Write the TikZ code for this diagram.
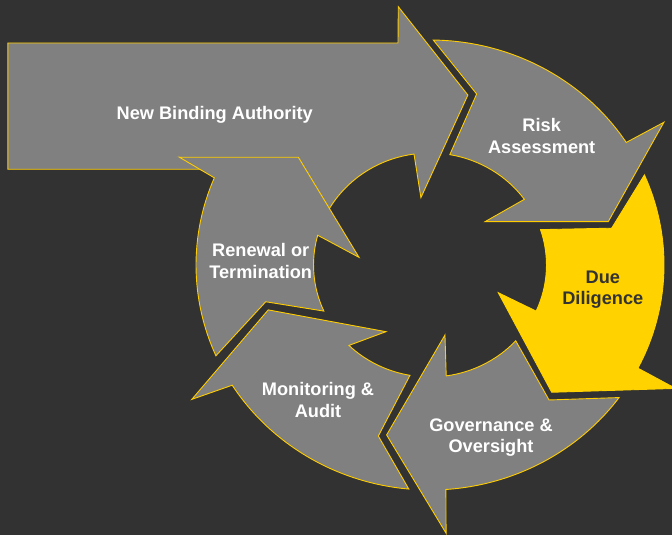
\documentclass[tikz,border=0pt]{standalone}
\usepackage{fontspec}
\setmainfont{Liberation Sans}
\definecolor{bgdark}{HTML}{323232}
\definecolor{arrowgray}{HTML}{808080}
\definecolor{rimyellow}{HTML}{FFCC00}
\definecolor{hotyellow}{HTML}{FFD200}
\definecolor{darktext}{HTML}{333333}
\begin{document}
\begin{tikzpicture}[
  cyc/.style={draw=rimyellow, line width=0.9pt, line join=miter, fill=arrowgray},
  hot/.style={cyc, fill=hotyellow, draw=hotyellow},
  lbl/.style={font=\bfseries\fontsize{18.2}{21.7}\selectfont, text=white, align=center, inner sep=0pt},
]
% canvas and background
\useasboundingbox (0pt,0pt) rectangle (672pt,535pt);
\fill[bgdark] (0pt,0pt) rectangle (672pt,535pt);

% corners of the straight entry block
\coordinate (nbaTL) at (8pt,492pt);
\coordinate (nbaTR) at (398pt,492pt);
\coordinate (nbaWing) at (398.3pt,528.3pt);
\coordinate (nbaBR) at (200pt,365.7pt);
\coordinate (nbaBL) at (8pt,365.7pt);

% the ring of arrows, slightly wider than tall
\begin{scope}[shift={(430pt,270pt)}, xscale=1.04]
  % entry arrow: straight block bending into the ring
  \draw[cyc] (nbaTL) -- (nbaTR) -- (nbaWing) -- (77.9:173.8pt) -- (97.4:67.9pt)
    -- (97.9:112pt) arc[start angle=97.9, end angle=160, radius=112pt]
    -- (nbaBR) -- (nbaBL) -- cycle;

  % Risk Assessment
  \draw[cyc] (89.2:225pt) -- (75.3:176.8pt) -- (80.2:112pt)
    arc[start angle=80.2, end angle=35.9, radius=112pt]
    -- (39.3:68.4pt) -- (14.2:176.8pt) -- (32.4:266.4pt) -- (33:225pt)
    arc[start angle=33, end angle=89.2, radius=225pt] -- cycle;

  % Due Diligence (highlighted)
  \draw[hot] (23.6:225pt) -- (11.9:178.5pt) -- (18.4:112pt)
    arc[start angle=18.4, end angle=-24.3, radius=112pt]
    -- (-22.9:71.3pt) -- (-47.4:172.9pt) -- (-27.6:266.4pt) -- (-27.3:225pt)
    arc[start angle=-27.3, end angle=23.6, radius=225pt] -- cycle;

  % Governance & Oversight
  \draw[cyc] (-36.1:225pt) -- (-49.7:177pt) -- (-42.6:112pt)
    arc[start angle=-42.6, end angle=-82, radius=112pt]
    -- (-78.4:71.5pt) -- (-103.8:175pt) -- (-86.7:268.7pt) -- (-86.1:225pt)
    arc[start angle=-86.1, end angle=-36.1, radius=225pt] -- cycle;

  % Monitoring & Audit
  \draw[cyc] (-95.2:225pt) -- (-106.2:178.1pt) -- (-99.9:112pt)
    arc[start angle=-99.9, end angle=-134.1, radius=112pt]
    -- (-122.4:79pt) -- (-163.9:161.9pt) -- (-149.6:265.6pt) -- (-147.7:225pt)
    arc[start angle=-147.7, end angle=-95.2, radius=225pt] -- cycle;

  % Renewal or Termination (drawn over the entry block)
  \draw[cyc] (203.8:225pt) -- (193.1:162.2pt) -- (204.3:112pt)
    arc[start angle=204.3, end angle=164.6, radius=112pt]
    -- (173.6:68.7pt) -- (139.6:166.2pt) -- (155.9:264pt) -- (157.2:225pt)
    arc[start angle=157.2, end angle=203.8, radius=225pt] -- cycle;
\end{scope}

% labels
\node[lbl] (nba) at (214.7pt,420.6pt) {New Binding Authority};
\node[lbl] (risk) at (541.7pt,399.2pt) {Risk\\Assessment};
\node[lbl, text=darktext] (dd) at (602.8pt,245.3pt) {Due\\Diligence};
\node[lbl] (gov) at (491pt,97.3pt) {Governance \&\\Oversight};
\node[lbl] (mon) at (318pt,135.3pt) {Monitoring \&\\Audit};
\node[lbl] (ren) at (260.7pt,273.7pt) {Renewal or\\Termination};
\end{tikzpicture}
\end{document}
